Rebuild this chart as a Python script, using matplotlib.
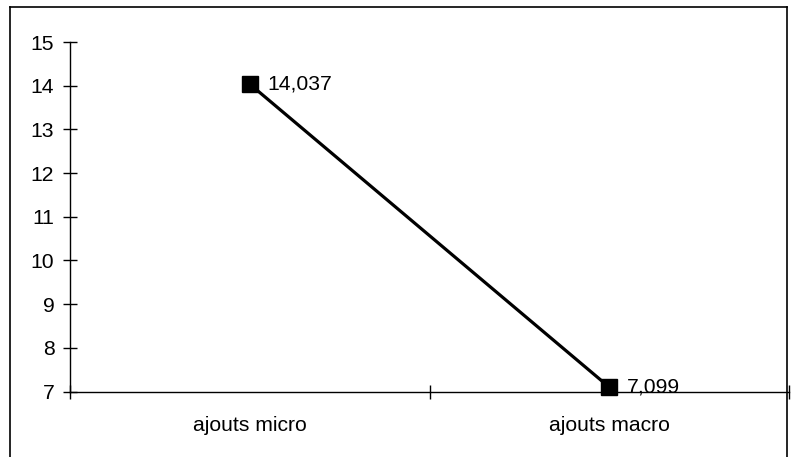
import matplotlib
matplotlib.use("Agg")
import matplotlib.pyplot as plt
from matplotlib.lines import Line2D

categories = ["ajouts micro", "ajouts macro"]
values = [14.037, 7.099]
labels = ["14,037", "7,099"]
yticks = [7, 8, 9, 10, 11, 12, 13, 14, 15]

plt.rcParams['font.family'] = ['Liberation Sans', 'DejaVu Sans']
FS = 15.2

W, H = 792, 457
fig = plt.figure(figsize=(W / 100, H / 100), dpi=100)
ax = fig.add_axes([70 / W, (H - 391.5) / H, (789 - 70) / W, (391.5 - 42) / H])

x = [0.5, 1.5]
ax.plot(x, values, color='black', lw=2.3, marker='s', markersize=11.5, zorder=5, clip_on=False)
for xi, v, lab in zip(x, values, labels):
    ax.annotate(lab, (xi, v), xytext=(12.5, 0), textcoords='offset points',
                va='center', ha='left', fontsize=FS)

ax.set_xlim(0, 2)
ax.set_ylim(7, 15)
ax.set_yticks(yticks)
ax.set_xticks([0, 1, 2])
ax.set_xticklabels([])
ax.set_xticks(x, minor=True)
ax.set_xticklabels(categories, minor=True, fontsize=FS)
ax.tick_params(axis='x', which='minor', length=0, pad=17.5)
ax.tick_params(axis='x', which='major', direction='inout', length=9.5, width=1)
ax.tick_params(axis='y', direction='inout', length=9.5, width=1, labelsize=FS, pad=6.5)
for s in ['top', 'right']:
    ax.spines[s].set_visible(False)
for s in ['left', 'bottom']:
    ax.spines[s].set_linewidth(1)

# outer border
bx0, bx1, by0 = 10 / W, 787 / W, 1 - 7 / H
for xs, ys in [([bx0, bx0], [0, by0]), ([bx0, bx1], [by0, by0]), ([bx1, bx1], [by0, 0])]:
    fig.add_artist(Line2D(xs, ys, color='black', lw=1.2, transform=fig.transFigure))

fig.savefig("out.png", dpi=100)
